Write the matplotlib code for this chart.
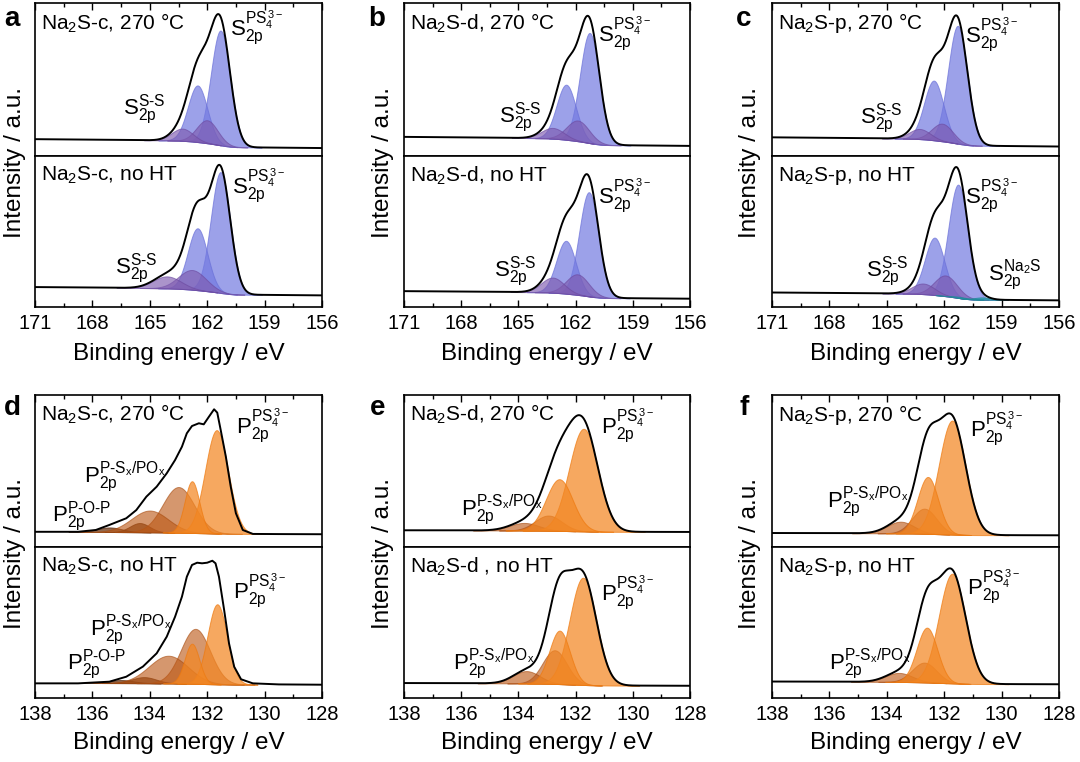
import numpy as np
import matplotlib
matplotlib.use('Agg')
import matplotlib.pyplot as plt
from matplotlib.ticker import MultipleLocator

plt.rcParams['font.family'] = ['Liberation Sans', 'DejaVu Sans']
plt.rcParams['mathtext.fontset'] = 'custom'
plt.rcParams['mathtext.rm'] = 'Liberation Sans'
plt.rcParams['mathtext.it'] = 'Liberation Sans:italic'
plt.rcParams['mathtext.bf'] = 'Liberation Sans:bold'

# ---------------- data ----------------
S_RANGE = [171, 156]
P_RANGE = [138, 128]
S_TICKS = [171, 168, 165, 162, 159, 156]
P_TICKS = [138, 136, 134, 132, 130, 128]

S_KINDS = ['PS4', 'PS4', 'SS', 'SS']
S_KINDS_NA2S = ['PS4', 'PS4', 'SS', 'SS', 'Na2S', 'Na2S']
P_KINDS = ['PS4', 'PS4', 'PSx', 'PSx']
P_KINDS_POP = ['PS4', 'PS4', 'PSx', 'PSx', 'POP', 'POP']

# fitted components: peak position (eV), height (a.u.), FWHM (eV); background [high-BE end, low-BE end]
a_hot_pos = [161.3, 162.5, 162.0, 163.3]
a_hot_amp = [0.75, 0.37, 0.15, 0.08]
a_hot_fwhm = [1.2, 1.2, 1.3, 1.3]
a_hot_bg = [0.11, 0.052]

a_raw_pos = [161.3, 162.5, 162.78, 164.1]
a_raw_amp = [0.80, 0.41, 0.13, 0.08]
a_raw_fwhm = [1.2, 1.2, 1.7, 1.7]
a_raw_bg = [0.132, 0.077]

b_hot_pos = [161.26, 162.49, 161.88, 163.2]
b_hot_amp = [0.72, 0.36, 0.135, 0.07]
b_hot_fwhm = [1.2, 1.2, 1.4, 1.4]
b_hot_bg = [0.125, 0.066]

b_raw_pos = [161.3, 162.5, 161.9, 163.2]
b_raw_amp = [0.69, 0.35, 0.136, 0.10]
b_raw_fwhm = [1.2, 1.2, 1.4, 1.4]
b_raw_bg = [0.105, 0.055]

c_hot_pos = [161.29, 162.54, 162.1, 163.28]
c_hot_amp = [0.77, 0.39, 0.115, 0.066]
c_hot_fwhm = [1.2, 1.2, 1.3, 1.3]
c_hot_bg = [0.122, 0.062]

c_raw_pos = [161.27, 162.5, 161.93, 163.1, 160.0, 161.2]
c_raw_amp = [0.75, 0.38, 0.137, 0.07, 0.015, 0.008]
c_raw_fwhm = [1.2, 1.2, 1.4, 1.4, 1.0, 1.0]
c_raw_bg = [0.096, 0.044]

d_hot_pos = [131.67, 132.53, 133.0, 134.0, 134.35, 135.4]
d_hot_amp = [0.68, 0.34, 0.30, 0.143, 0.06, 0.03]
d_hot_fwhm = [0.95, 0.6, 1.3, 1.5, 0.8, 1.0]
d_hot_bg = [0.10, 0.085]
# measured d spectra (black line)
d_hot_be = [138.0, 136.5, 135.88, 135.41, 134.82, 134.47, 134.12, 133.76, 133.41, 133.12,
            132.88, 132.71, 132.53, 132.29, 132.12, 131.94, 131.76, 131.65, 131.53, 131.35,
            131.18, 131.0, 130.76, 130.41, 129.5, 128.0]
d_hot_int = [0.100, 0.100, 0.112, 0.145, 0.189, 0.243, 0.331, 0.397, 0.485, 0.572,
             0.660, 0.748, 0.796, 0.814, 0.807, 0.857, 0.906, 0.884, 0.770, 0.594,
             0.397, 0.222, 0.112, 0.086, 0.085, 0.084]

d_raw_pos = [131.65, 132.53, 132.41, 133.35, 134.2, 135.0]
d_raw_amp = [0.53, 0.265, 0.364, 0.183, 0.04, 0.02]
d_raw_fwhm = [0.8, 0.6, 1.2, 1.6, 1.0, 1.0]
d_raw_bg = [0.10, 0.088]
d_raw_be = [138.0, 136.5, 135.41, 134.82, 134.24, 133.76, 133.41, 133.12, 132.88, 132.71,
            132.53, 132.35, 132.18, 132.0, 131.82, 131.71, 131.59, 131.41, 131.24, 131.06,
            130.82, 130.41, 129.5, 128.0]
d_raw_int = [0.097, 0.097, 0.108, 0.141, 0.208, 0.296, 0.406, 0.538, 0.671, 0.803,
             0.881, 0.896, 0.892, 0.896, 0.909, 0.892, 0.803, 0.583, 0.362, 0.207,
             0.124, 0.097, 0.090, 0.088]

e_hot_pos = [131.72, 132.57, 132.95, 133.8]
e_hot_amp = [0.675, 0.34, 0.10, 0.05]
e_hot_fwhm = [1.2, 1.1, 1.1, 1.2]
e_hot_bg = [0.11, 0.099]

e_raw_pos = [131.74, 132.56, 132.73, 133.72]
e_raw_amp = [0.71, 0.354, 0.223, 0.082]
e_raw_fwhm = [1.1, 0.85, 1.0, 1.1]
e_raw_bg = [0.099, 0.081]

f_hot_pos = [131.72, 132.57, 132.69, 133.52]
f_hot_amp = [0.75, 0.374, 0.165, 0.077]
f_hot_fwhm = [1.1, 0.85, 1.0, 1.1]
f_hot_bg = [0.092, 0.077]

f_raw_pos = [131.72, 132.6, 132.69, 133.58]
f_raw_amp = [0.726, 0.363, 0.131, 0.06]
f_raw_fwhm = [1.1, 0.85, 1.0, 1.1]
f_raw_bg = [0.109, 0.091]

SAMPLES = ['Na$_2$S-c', 'Na$_2$S-d', 'Na$_2$S-p']

# ---------------- styles ----------------
COLORS = {
    'PS4S': ('#737ae1', '#6a70d8', 0.70),
    'SS': ('#7e5bb0', '#6c4aa0', 0.65),
    'Na2S': ('#2aa0b0', '#208898', 0.8),
    'PS4P': ('#f38723', '#ee7a10', 0.72),
    'PSx': ('#bc5816', '#a84c10', 0.62),
    'POP': ('#6e3714', '#5a2c10', 0.75),
}

FIG_W, FIG_H = 1080, 762
COLS = [(35, 322), (404, 690), (772, 1059)]
ROWS = [(3, 156, 307), (395, 547, 698)]
XLABEL_PAD = [7, 6]

fig = plt.figure(figsize=(FIG_W / 100, FIG_H / 100), dpi=100)


def gauss(x, c, a, w):
    return a * np.exp(-4 * np.log(2) * ((x - c) / w) ** 2)


def draw_spectrum(ax, rng, kinds, pos, amp, fwhm, bg, element, data=None):
    x = np.linspace(rng[0], rng[1], 2000)
    comps = [gauss(x, c, a, w) for c, a, w in zip(pos, amp, fwhm)]
    total = np.sum(comps, axis=0)
    # Shirley-like step background: higher on the high-BE side
    order = np.argsort(x)
    cum = np.zeros_like(x)
    cum[order] = np.cumsum(total[order])
    cum /= cum.max()
    lin = (x - rng[1]) / (rng[0] - rng[1])
    back = bg[1] + (bg[0] - bg[1]) * (0.7 * cum + 0.3 * lin)
    draw_order = []
    if element == 'S':
        for kind in ['PS4', 'SS', 'Na2S']:
            draw_order += [i for i, k in enumerate(kinds) if k == kind]
    else:
        for kind in ['POP', 'PSx', 'PS4']:
            draw_order += [i for i, k in enumerate(kinds) if k == kind]
    for i in draw_order:
        key = kinds[i]
        if key == 'PS4':
            key = 'PS4S' if element == 'S' else 'PS4P'
        fc, ec, al = COLORS[key]
        mask = comps[i] > 1e-4
        ax.fill_between(x[mask], back[mask], back[mask] + comps[i][mask],
                        facecolor=fc, alpha=al, edgecolor=ec, linewidth=0.7)
    if data is None:
        ax.plot(x, back + total, color='black', lw=1.4)
    else:
        ax.plot(data[0], data[1], color='black', lw=1.4, solid_joinstyle='round')


def style_axes(ax, rng, ticks, minor, top):
    ax.set_xlim(rng[0], rng[1])
    ax.set_ylim(0, 1)
    ax.set_yticks([])
    ax.set_xticks(ticks)
    ax.xaxis.set_minor_locator(MultipleLocator(minor))
    for s in ax.spines.values():
        s.set_linewidth(1.2)
    ax.tick_params(axis='x', which='both', direction='in', top=top, bottom=not top,
                   labeltop=False, labelbottom=not top, width=1.0, labelsize=14.5, pad=5)
    ax.tick_params(axis='x', which='major', length=5)
    ax.tick_params(axis='x', which='minor', length=3)


HY = '\u2010'
S_PS4 = r'$\mathrm{S}_{\mathrm{2p}}^{\mathrm{PS}_4^{\,3-}}$'
S_SS = r'$\mathrm{S}_{\mathrm{2p}}^{\mathrm{S' + HY + r'S}}$'
S_NA2S = r'$\mathrm{S}_{\mathrm{2p}}^{\mathrm{Na}_2\mathrm{S}}$'
P_PS4 = r'$\mathrm{P}_{\mathrm{2p}}^{\mathrm{PS}_4^{\,3-}}$'
P_PSX = r'$\mathrm{P}_{\mathrm{2p}}^{\mathrm{P' + HY + r'S}_\mathrm{x}\mathrm{/PO}_\mathrm{x}}$'
P_POP = r'$\mathrm{P}_{\mathrm{2p}}^{\mathrm{P' + HY + 'O' + HY + r'P}}$'

spectra = [
    # (row, col, top?, sample text, kinds, pos, amp, fwhm, bg, data, labels)
    (0, 0, True, SAMPLES[0] + ', 270 °C', S_KINDS, a_hot_pos, a_hot_amp, a_hot_fwhm, a_hot_bg, None,
     [(S_PS4, 160.8, 0.84), (S_SS, 166.4, 0.30)]),
    (0, 0, False, SAMPLES[0] + ', no HT', S_KINDS, a_raw_pos, a_raw_amp, a_raw_fwhm, a_raw_bg, None,
     [(S_PS4, 160.7, 0.80), (S_SS, 166.8, 0.25)]),
    (0, 1, True, SAMPLES[1] + ', 270 °C', S_KINDS, b_hot_pos, b_hot_amp, b_hot_fwhm, b_hot_bg, None,
     [(S_PS4, 160.8, 0.80), (S_SS, 166.0, 0.25)]),
    (0, 1, False, SAMPLES[1] + ', no HT', S_KINDS, b_raw_pos, b_raw_amp, b_raw_fwhm, b_raw_bg, None,
     [(S_PS4, 160.8, 0.74), (S_SS, 166.3, 0.23)]),
    (0, 2, True, SAMPLES[2] + ', 270 °C', S_KINDS, c_hot_pos, c_hot_amp, c_hot_fwhm, c_hot_bg, None,
     [(S_PS4, 160.9, 0.79), (S_SS, 166.4, 0.24)]),
    (0, 2, False, SAMPLES[2] + ', no HT', S_KINDS_NA2S, c_raw_pos, c_raw_amp, c_raw_fwhm, c_raw_bg, None,
     [(S_PS4, 160.9, 0.74), (S_SS, 166.1, 0.23), (S_NA2S, 159.7, 0.21)]),
    (1, 0, True, SAMPLES[0] + ', 270 °C', P_KINDS_POP, d_hot_pos, d_hot_amp, d_hot_fwhm, d_hot_bg,
     (d_hot_be, d_hot_int),
     [(P_PS4, 131.0, 0.80), (P_PSX, 136.3, 0.46), (P_POP, 137.4, 0.20)]),
    (1, 0, False, SAMPLES[0] + ', no HT', P_KINDS_POP, d_raw_pos, d_raw_amp, d_raw_fwhm, d_raw_bg,
     (d_raw_be, d_raw_int),
     [(P_PS4, 131.1, 0.71), (P_PSX, 136.1, 0.445), (P_POP, 136.9, 0.22)]),
    (1, 1, True, SAMPLES[1] + ', 270 °C', P_KINDS, e_hot_pos, e_hot_amp, e_hot_fwhm, e_hot_bg, None,
     [(P_PS4, 131.1, 0.80), (P_PSX, 136.0, 0.24)]),
    (1, 1, False, SAMPLES[1] + ' , no HT', P_KINDS, e_raw_pos, e_raw_amp, e_raw_fwhm, e_raw_bg, None,
     [(P_PS4, 131.1, 0.70), (P_PSX, 136.3, 0.225)]),
    (1, 2, True, SAMPLES[2] + ', 270 °C', P_KINDS, f_hot_pos, f_hot_amp, f_hot_fwhm, f_hot_bg, None,
     [(P_PS4, 131.1, 0.78), (P_PSX, 136.1, 0.29)]),
    (1, 2, False, SAMPLES[2] + ', no HT', P_KINDS, f_raw_pos, f_raw_amp, f_raw_fwhm, f_raw_bg, None,
     [(P_PS4, 131.2, 0.74), (P_PSX, 136.0, 0.22)]),
]

for row, col, top, sample, kinds, pos, amp, fwhm, bg, data, labels in spectra:
    x0, x1 = COLS[col]
    ytop, ymid, ybot = ROWS[row]
    if top:
        y_hi, y_lo = ytop, ymid
    else:
        y_hi, y_lo = ymid, ybot
    ax = fig.add_axes([x0 / FIG_W, 1 - y_lo / FIG_H, (x1 - x0) / FIG_W, (y_lo - y_hi) / FIG_H])
    element = 'S' if row == 0 else 'P'
    rng = S_RANGE if element == 'S' else P_RANGE
    ticks = S_TICKS if element == 'S' else P_TICKS
    draw_spectrum(ax, rng, kinds, pos, amp, fwhm, bg, element, data)
    style_axes(ax, rng, ticks, 1.5 if element == 'S' else 1.0, top)
    ax.text(0.02, 0.87, sample, transform=ax.transAxes, fontsize=15, va='center', ha='left')
    for txt, lx, ly in labels:
        ax.text(lx, ly, txt, fontsize=16, va='center', ha='left')
    if not top:
        ax.set_xlabel('Binding energy / eV', fontsize=17.5, labelpad=XLABEL_PAD[row])

# y labels and panel letters
for row in range(2):
    ytop, ymid, ybot = ROWS[row]
    yc = 1 - ((ytop + ybot) / 2 + 7) / FIG_H
    for col, xc in enumerate([15, 383, 750]):
        fig.text(xc / FIG_W, yc, 'Intensity / a.u.', rotation=90, fontsize=17.5,
                 ha='center', va='center')
letters = [('a', 4, 19), ('b', 368, 19), ('c', 736, 19),
           ('d', 4, 408), ('e', 370, 408), ('f', 740, 408)]
for t, lx, ly in letters:
    fig.text(lx / FIG_W, 1 - ly / FIG_H, t, fontsize=20, fontweight='bold', ha='left', va='center')

fig.savefig('out.png', dpi=100)
